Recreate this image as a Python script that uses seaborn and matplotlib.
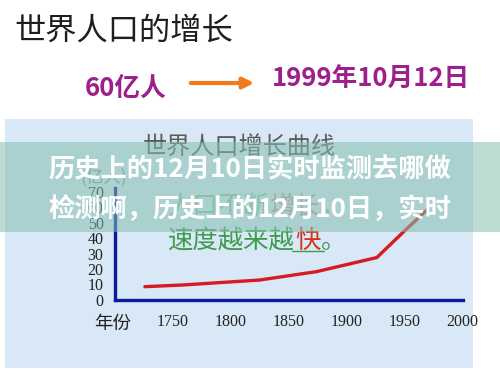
import matplotlib
matplotlib.use("Agg")
import matplotlib.pyplot as plt
import seaborn as sns
import pandas as pd
from matplotlib.patches import Rectangle, FancyArrowPatch
from matplotlib.lines import Line2D

# ---- data ----
years = [1726, 1759, 1825, 1874, 1926, 1949, 1969]
population = [8.6, 9.7, 12.9, 18.3, 27.4, 44.0, 58.0]   # 亿人
x_ticks = [1750, 1800, 1850, 1900, 1950, 2000]
y_ticks = [0, 10, 20, 30, 40, 50, 60, 70]

page_title = "世界人口的增长"
left_note = "60亿人"
right_note = "1999年10月12日"
chart_title = "世界人口增长曲线"
unit_label = "(亿人)"
x_label = "年份"
faint_parts = ["人口不断", "增长", "，"]
note_parts = ["速度越来越", "快", "。"]
overlay_lines = ["历史上的12月10日实时监测去哪做", "检测啊，历史上的12月10日，实时"]

sns.set_style("white")
plt.rcParams['font.family'] = ['Noto Sans CJK SC', 'DejaVu Sans']

W, H = 500, 375
fig = plt.figure(figsize=(5, 3.75), dpi=100)
fig.patch.set_facecolor("white")


def fx(x):
    return x / W


def fy(y):
    return 1 - y / H


axis_color = "#0c1a9c"
purple = "#9c1f8c"
green = "#3f9a4c"

# light-blue panel behind the chart
fig.add_artist(Rectangle((fx(5), fy(368)), (473 - 5) / W, (368 - 119) / H,
                         transform=fig.transFigure, facecolor="#d9e8f6",
                         edgecolor="none", zorder=-5))

# ---- chart ----
ax = fig.add_axes([fx(114.7), fy(300), 348 / W, 111.6 / H])
ax.set_facecolor("none")
df = pd.DataFrame({"year": years, "pop": population})
sns.lineplot(data=df, x="year", y="pop", ax=ax, color="#d51c22", lw=2.4,
             sort=False)
ax.set_xlim(1700, 2000)
ax.set_ylim(0, 72)
for side in ["top", "right"]:
    ax.spines[side].set_visible(False)
for side in ["left", "bottom"]:
    ax.spines[side].set_color(axis_color)
    ax.spines[side].set_linewidth(2.4)
ax.set_xlabel("")
ax.set_ylabel("")
ax.set_xticks(x_ticks, labels=[str(v) for v in x_ticks],
              fontfamily="Liberation Serif", fontsize=11.5, color="#222222")
ax.set_yticks(y_ticks, labels=[str(v) for v in y_ticks],
              fontfamily="Liberation Serif", fontsize=11.5, color="#222222")
ax.tick_params(axis="both", direction="in", length=5, width=2.2,
               color=axis_color)
ax.tick_params(axis="x", pad=10)
ax.tick_params(axis="y", pad=8)
ax.grid(False)

fig.text(fx(113), fy(324), x_label, ha="center", va="center",
         fontsize=13.3, color="#222222")

# ---- page texts ----
fig.text(fx(14), fy(30.5), page_title, ha="left", va="center",
         fontsize=22.5, color="#1e1e1e")
fig.text(fx(85), fy(88), left_note, ha="left", va="center",
         fontsize=18.5, fontweight="bold", color=purple)
fig.text(fx(272), fy(79), right_note, ha="left", va="center",
         fontsize=18.5, fontweight="bold", color=purple)
fig.add_artist(FancyArrowPatch((fx(188), fy(83)), (fx(257), fy(83)),
                               transform=fig.transFigure,
                               arrowstyle="-|>", mutation_scale=16,
                               lw=3, color="#f07a1c"))

fig.text(fx(143), fy(147), chart_title, ha="left", va="center",
         fontsize=17.4, color="#5a5a5a")
fig.text(fx(80), fy(177), unit_label, ha="left", va="center",
         fontsize=12.5, color="#555555", alpha=0.6)

# faint note line (under the overlay)
fig.text(fx(168), fy(207), faint_parts[0], ha="left", va="center",
         fontsize=18.3, color=green, alpha=0.5)
fig.text(fx(270), fy(207), faint_parts[1], ha="left", va="center",
         fontsize=18.3, color="#b0503a", alpha=0.5)
fig.text(fx(321), fy(207), faint_parts[2], ha="left", va="center",
         fontsize=18.3, color=green, alpha=0.5)

# green note line
fig.text(fx(168), fy(241), note_parts[0], ha="left", va="center",
         fontsize=18.3, color=green)
fig.text(fx(295), fy(241), note_parts[1], ha="left", va="center",
         fontsize=18.3, color="#d2361f")
fig.text(fx(321), fy(241), note_parts[2], ha="left", va="center",
         fontsize=18.3, color=green)
fig.add_artist(Line2D([fx(292), fx(324)], [fy(251), fy(251)],
                      transform=fig.transFigure, color=green, lw=1.0))

# ---- translucent overlay band with white text ----
fig.add_artist(Rectangle((0, fy(232)), 1, (232 - 142) / H,
                         transform=fig.transFigure,
                         facecolor=(0.52, 0.75, 0.69), alpha=0.55,
                         edgecolor="none", zorder=5))
fig.text(fx(48), fy(170), overlay_lines[0], ha="left", va="center",
         fontsize=18.9, fontweight="bold", color="white", zorder=6)
fig.text(fx(48), fy(210), overlay_lines[1], ha="left", va="center",
         fontsize=18.9, fontweight="bold", color="white", zorder=6)

fig.savefig("out.png", dpi=100, facecolor="white")
